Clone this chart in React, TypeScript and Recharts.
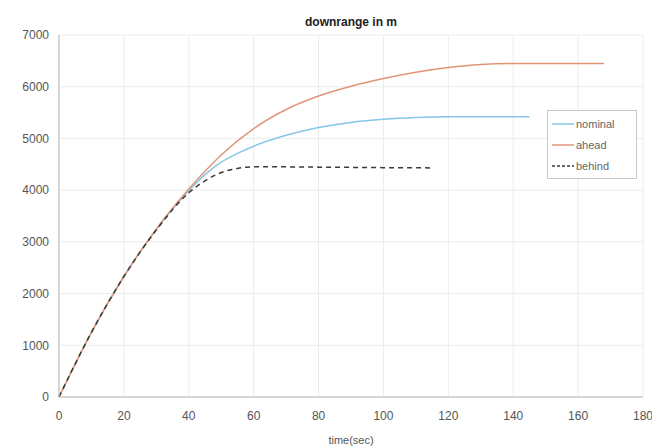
import { LineChart, Line, XAxis, YAxis, CartesianGrid, Label } from "recharts";

// time in seconds
const nominalTime = [0, 10, 20, 30, 40, 45, 50, 55, 60, 70, 80, 90, 100, 110, 120, 130, 145];
const nominalDist = [0, 1250, 2330, 3240, 3990, 4300, 4540, 4710, 4850, 5060, 5210, 5310, 5370, 5405, 5420, 5420, 5420];

const aheadTime = [0, 10, 20, 30, 40, 50, 60, 70, 80, 90, 100, 110, 120, 130, 140, 150, 168];
const aheadDist = [0, 1250, 2330, 3250, 4020, 4680, 5190, 5560, 5820, 6010, 6160, 6280, 6370, 6430, 6450, 6450, 6450];

const behindTime = [0, 10, 20, 30, 40, 45, 50, 55, 60, 70, 80, 90, 100, 115];
const behindDist = [0, 1250, 2330, 3230, 3950, 4180, 4340, 4420, 4450, 4450, 4445, 4440, 4435, 4430];

const xTicks = [0, 20, 40, 60, 80, 100, 120, 140, 160, 180];
const yTicks = [0, 1000, 2000, 3000, 4000, 5000, 6000, 7000];

const toPoints = (ts: number[], vs: number[]) => ts.map((t, i) => ({ t, v: vs[i] }));

const series = [
  { name: "nominal", color: "#86c6e8", dash: undefined, data: toPoints(nominalTime, nominalDist) },
  { name: "ahead", color: "#e09676", dash: undefined, data: toPoints(aheadTime, aheadDist) },
  { name: "behind", color: "#3a3a3a", dash: "5 4", data: toPoints(behindTime, behindDist) },
];

const font = "'Liberation Sans', Arial, sans-serif";

function LegendBox() {
  return (
    <div
      style={{
        position: "absolute",
        left: 547,
        top: 110,
        width: 80,
        border: "1px solid #c8c8c8",
        background: "#fff",
        padding: "2px 4px",
        fontFamily: font,
        fontSize: 11,
        color: "#666",
      }}
    >
      {series.map((s) => (
        <div key={s.name} style={{ display: "flex", alignItems: "center", height: 21 }}>
          <svg width={22} height={6} style={{ marginRight: 2 }}>
            <line x1={0} y1={3} x2={22} y2={3} stroke={s.color} strokeWidth={1.5} strokeDasharray={s.dash ? "3 2" : undefined} />
          </svg>
          <span>{s.name}</span>
        </div>
      ))}
    </div>
  );
}

export default function App() {
  return (
    <div style={{ position: "absolute", left: 0, top: 0, width: 652, height: 448, background: "#fff" }}>
      <div
        style={{
          position: "absolute",
          left: 0,
          width: 702,
          top: 15,
          textAlign: "center",
          fontFamily: font,
          fontWeight: "bold",
          fontSize: 12,
          color: "#222",
        }}
      >
        downrange in m
      </div>
      <LineChart width={652} height={448} margin={{ top: 35, right: 9, left: 0, bottom: 0 }}>
        <CartesianGrid stroke="#ececec" />
        <XAxis
          type="number"
          dataKey="t"
          domain={[0, 180]}
          ticks={xTicks}
          allowDuplicatedCategory={false}
          height={51}
          tickLine={false}
          tickMargin={8}
          stroke="#b8b8b8"
          tick={{ fontSize: 12, fill: "#555", fontFamily: font }}
        >
          <Label value="time(sec)" position="insideBottom" offset={4} style={{ fontSize: 11, fill: "#555", fontFamily: font }} />
        </XAxis>
        <YAxis
          type="number"
          dataKey="v"
          domain={[0, 7000]}
          ticks={yTicks}
          width={59}
          tickLine={false}
          tickMargin={4}
          stroke="#b8b8b8"
          tick={{ fontSize: 12, fill: "#555", fontFamily: font }}
        />
        {series.map((s) => (
          <Line
            key={s.name}
            data={s.data}
            dataKey="v"
            name={s.name}
            type="monotone"
            stroke={s.color}
            strokeWidth={1.5}
            strokeDasharray={s.dash}
            dot={false}
            isAnimationActive={false}
          />
        ))}
      </LineChart>
      <LegendBox />
    </div>
  );
}
